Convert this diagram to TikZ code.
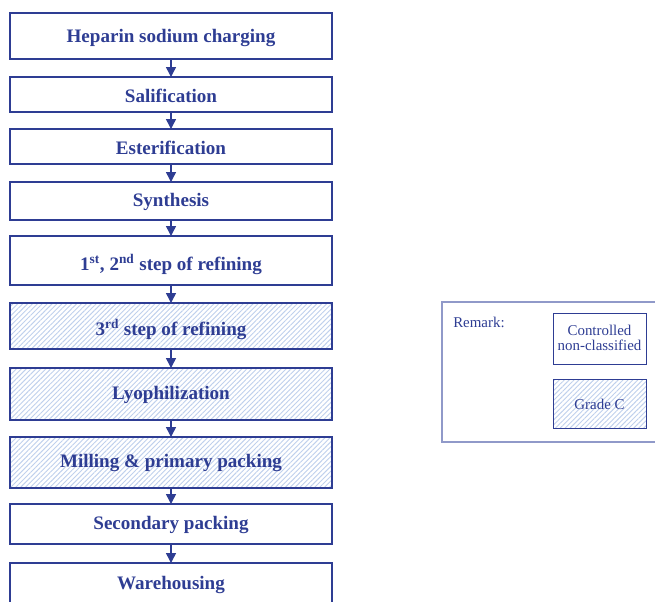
\documentclass[tikz,border=0pt]{standalone}
\usepackage{fontspec}
\setmainfont{Liberation Serif}
\usetikzlibrary{arrows.meta,patterns.meta}
\definecolor{navy}{HTML}{2E3D93}
\definecolor{hatch}{HTML}{BFD0EC}
\definecolor{lightframe}{HTML}{9099C9}
\tikzset{
  stepbox/.style={draw=navy,line width=1.1pt,font=\fontsize{14.3}{16}\selectfont\bfseries,text=navy},
  steptext/.style={stepbox,draw=none,yshift=-1.5pt},
  hatched/.style={pattern={Lines[angle=45,distance=2.6pt,line width=0.7pt]},pattern color=hatch},
  flow/.style={draw=navy,line width=1.1pt,-{Triangle[length=7.5pt,width=7.5pt]}},
  legtext/.style={font=\fontsize{11.2}{13}\selectfont,text=navy,align=center},
}
\begin{document}
\begin{tikzpicture}[x=0.75pt,y=-0.75pt]
\useasboundingbox (0,0) rectangle (655,601);
\begin{scope}
\clip (0,0) rectangle (655,601);
% hatching
\fill[hatched] (10,303) rectangle (332,349);
\fill[hatched] (10,368) rectangle (332,420);
\fill[hatched] (10,437) rectangle (332,488);
\fill[hatched] (553,379) rectangle (646,428);
% boxes
\draw[stepbox] (10,13) rectangle (332,59);
\node[steptext] (b1) at (171,36) {Heparin sodium charging};
\draw[stepbox] (10,77) rectangle (332,112);
\node[steptext] (b2) at (171,94) {Salification};
\draw[stepbox] (10,129) rectangle (332,164);
\node[steptext] (b3) at (171,146) {Esterification};
\draw[stepbox] (10,182) rectangle (332,220);
\node[steptext] (b4) at (171,200) {Synthesis};
\draw[stepbox] (10,236) rectangle (332,285);
\node[steptext] (b5) at (171,262) {1\textsuperscript{st}, 2\textsuperscript{nd} step of refining};
\draw[stepbox] (10,303) rectangle (332,349);
\node[steptext] (b6) at (171,327) {3\textsuperscript{rd} step of refining};
\draw[stepbox] (10,368) rectangle (332,420);
\node[steptext] (b7) at (171,393) {Lyophilization};
\draw[stepbox] (10,437) rectangle (332,488);
\node[steptext] (b8) at (171,461) {Milling \& primary packing};
\draw[stepbox] (10,504) rectangle (332,544);
\node[steptext] (b9) at (171,523) {Secondary packing};
\draw[stepbox] (10,563) rectangle (332,620);
\node[steptext] (b10) at (171,583) {Warehousing};
% arrow anchor coordinates
\coordinate (t2) at (171,77); \coordinate (s1) at (171,59);
\coordinate (t3) at (171,129); \coordinate (s2) at (171,112);
\coordinate (t4) at (171,182); \coordinate (s3) at (171,164);
\coordinate (t5) at (171,236); \coordinate (s4) at (171,220);
\coordinate (t6) at (171,303); \coordinate (s5) at (171,285);
\coordinate (t7) at (171,368); \coordinate (s6) at (171,349);
\coordinate (t8) at (171,437); \coordinate (s7) at (171,420);
\coordinate (t9) at (171,504); \coordinate (s8) at (171,488);
\coordinate (t10) at (171,563); \coordinate (s9) at (171,544);
\draw[flow] (s1) -- (t2);
\draw[flow] (s2) -- (t3);
\draw[flow] (s3) -- (t4);
\draw[flow] (s4) -- (t5);
\draw[flow] (s5) -- (t6);
\draw[flow] (s6) -- (t7);
\draw[flow] (s7) -- (t8);
\draw[flow] (s8) -- (t9);
\draw[flow] (s9) -- (t10);
% legend
\draw[lightframe,line width=0.9pt] (442,302) rectangle (680,442);
\node[legtext,anchor=north west,inner sep=0pt] (rem) at (453,317) {Remark:};
\draw[navy,line width=0.7pt] (553,313) rectangle (646,364);
\node[legtext,inner sep=0pt] (lg1) at (599.5,338) {Controlled\\[-2pt]non-classified};
\draw[navy,line width=0.7pt] (553,379) rectangle (646,428);
\node[legtext,inner sep=0pt] (lg2) at (599.5,404) {Grade C};
\end{scope}
\end{tikzpicture}
\end{document}
